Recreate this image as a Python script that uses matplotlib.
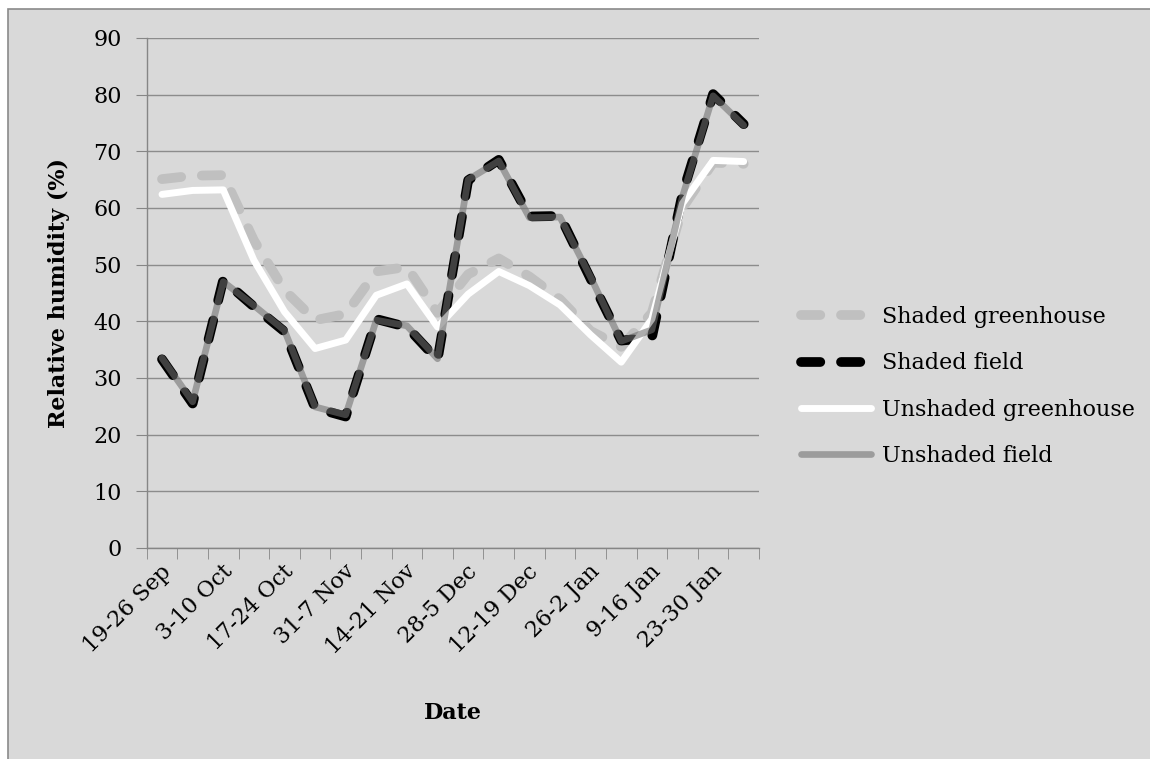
import numpy as np
import matplotlib
matplotlib.use('Agg')
import matplotlib.pyplot as plt
import matplotlib.transforms as mtransforms
from matplotlib.patches import Rectangle

# Weekly periods (every other one is labelled on the axis)
periods = ['19-26 Sep', '26-3 Oct', '3-10 Oct', '10-17 Oct', '17-24 Oct', '24-31 Oct',
           '31-7 Nov', '7-14 Nov', '14-21 Nov', '21-28 Nov', '28-5 Dec', '5-12 Dec',
           '12-19 Dec', '19-26 Dec', '26-2 Jan', '2-9 Jan', '9-16 Jan', '16-23 Jan',
           '23-30 Jan', '30-6 Feb']

# Relative humidity (%)
shaded_greenhouse = [65.1, 65.7, 65.8, 54.3, 45.5, 40.2, 41.3, 48.8, 49.6, 41.5,
                     48.3, 51.1, 47.9, 43.9, 38.3, 35.5, 41.5, 60.0, 68.0, 67.8]
shaded_field = [33.3, 25.5, 47.3, 42.6, 38.2, 24.7, 23.2, 40.4, 39.0, 33.2,
                64.9, 68.5, 58.5, 58.6, 47.5, 36.6, 37.1, 62.5, 80.1, 74.8]
unshaded_greenhouse = [62.4, 63.1, 63.2, 50.8, 41.7, 35.2, 36.7, 44.6, 46.6, 39.0,
                       44.8, 48.8, 46.3, 42.9, 37.6, 32.8, 40.4, 60.8, 68.4, 68.2]
unshaded_field = [33.5, 25.8, 47.0, 42.8, 38.4, 24.9, 23.5, 40.2, 39.2, 33.4,
                  65.0, 68.3, 58.3, 58.4, 47.8, 36.5, 38.5, 62.0, 79.8, 74.6]

plt.rcParams['font.family'] = ['DejaVu Serif']
plt.rcParams['lines.scale_dashes'] = False

W, H = 1150, 759
fig = plt.figure(figsize=(W / 100, H / 100), dpi=100, facecolor='white')

# chart area background with border (left/top edges visible)
fig.patches.append(Rectangle((8 / W, -0.05), 1.1, (H - 9) / H + 0.05,
                             transform=fig.transFigure, facecolor='#D9D9D9',
                             edgecolor='#8A8A8A', linewidth=1.2, zorder=-10))

ax = fig.add_axes([146.7 / W, (H - 548) / H, (759 - 146.7) / W, (548 - 38) / H])
ax.set_facecolor('none')

x = np.arange(len(periods)) + 0.5
lw_dash = 7.0
dash = (13.9, 14.9)

ax.plot(x, shaded_greenhouse, color='#C0C0C0', lw=lw_dash, dashes=dash,
        dash_capstyle='round', solid_joinstyle='round', label='Shaded greenhouse', zorder=3)
ax.plot(x, shaded_field, color='black', lw=lw_dash, dashes=dash,
        dash_capstyle='round', solid_joinstyle='round', label='Shaded field', zorder=4)
ax.plot(x, unshaded_greenhouse, color='white', lw=5, solid_capstyle='round',
        solid_joinstyle='round', label='Unshaded greenhouse', zorder=5)
ax.plot(x, unshaded_field, color='#707070', alpha=0.58, lw=4.8, solid_capstyle='round',
        solid_joinstyle='round', label='Unshaded field', zorder=6)

ax.set_xlim(0, len(periods))
ax.set_ylim(0, 90)
ax.set_yticks(np.arange(0, 91, 10))
ax.yaxis.grid(True, color='#8C8C8C', lw=1)
ax.set_axisbelow(True)

for s in ['top', 'right']:
    ax.spines[s].set_visible(False)
for s in ['left', 'bottom']:
    ax.spines[s].set_color('#868686')
    ax.spines[s].set_linewidth(1)

ax.tick_params(axis='y', length=8, color='#868686', labelsize=16, pad=10)

# category boundaries as ticks, labels at centres
ax.set_xticks(np.arange(0, len(periods) + 1), minor=True)
ax.tick_params(axis='x', which='minor', length=8, color='#868686')
ax.set_xticks(x)
ax.set_xticklabels([p if i % 2 == 0 else '' for i, p in enumerate(periods)])
ax.tick_params(axis='x', which='major', length=0, labelsize=16, pad=9)
offset = mtransforms.ScaledTranslation(-0.02, 0, fig.dpi_scale_trans)
for lab in ax.get_xticklabels():
    lab.set_rotation(45)
    lab.set_ha('right')
    lab.set_va('top')
    lab.set_rotation_mode('anchor')
    lab.set_transform(lab.get_transform() + offset)

ax.set_ylabel('Relative humidity (%)', fontsize=16, fontweight='bold')
ax.yaxis.set_label_coords(-0.125, 0.5)
ax.set_xlabel('Date', fontsize=16, fontweight='bold')
ax.xaxis.set_label_coords(0.5, -0.302)

fig.legend(loc='center left', bbox_to_anchor=(801 / W, (H - 386.5) / H),
           frameon=False, fontsize=16, handlelength=3.15, handletextpad=0.5,
           labelspacing=1.1, borderpad=0, borderaxespad=0)

fig.savefig('out.png', dpi=100, facecolor=fig.get_facecolor())
